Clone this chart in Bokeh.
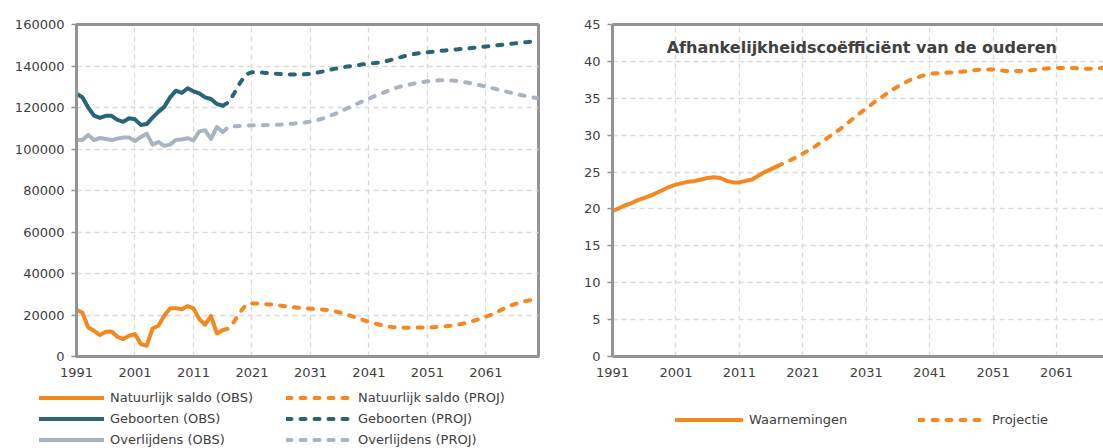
from bokeh.plotting import figure
from bokeh.models import (Legend, LegendItem, FixedTicker, BasicTickFormatter,
                          Range1d, Label, LinearAxis)
from bokeh.layouts import row, column
from bokeh.embed import file_html
from bokeh.resources import INLINE

# ---------------- data ----------------
years_obs = list(range(1991, 2017))
years_proj = list(range(2016, 2071))

saldo_obs = [22400, 21200, 14000, 12400, 10300, 11900, 12000, 9500, 8400, 10000,
             10800, 6000, 5200, 13500, 14800, 19600, 23200, 23300, 22800, 24300,
             23200, 18000, 15300, 19600, 11100, 12700]
births_obs = [126600, 124900, 120000, 116100, 115000, 116000, 116000, 114000, 113100, 114800,
              114300, 111600, 112000, 115100, 117900, 120300, 124900, 128100, 127000, 129300,
              127800, 126800, 124900, 124100, 121700, 120900]
deaths_obs = [104400, 104300, 106800, 104300, 105300, 104800, 104300, 105000, 105500, 105500,
              103800, 105800, 107400, 102100, 103400, 101500, 102100, 104400, 104600, 105200,
              104100, 108500, 109000, 104900, 110600, 108200]

saldo_proj = [12700, 13500, 17000, 21500, 25000, 25600, 25500, 25300, 25100, 24800,
              24500, 24100, 23800, 23500, 23200, 23000, 22900, 22700, 22400, 21900,
              21200, 20400, 19500, 18600, 17600, 16700, 15900, 15200, 14600, 14200,
              14000, 13900, 13900, 13900, 14000, 14000, 14100, 14300, 14500, 14800,
              15200, 15800, 16500, 17300, 18200, 19200, 20200, 21500, 23000, 24300,
              25300, 26100, 26800, 27400, 27900]
births_proj = [120900, 122500, 127000, 132000, 136000, 137000, 137000, 136800, 136500, 136300,
               136100, 136000, 135900, 135900, 136000, 136200, 136700, 137300, 138000, 138600,
               139100, 139600, 140000, 140400, 140800, 141100, 141400, 141800, 142400, 143100,
               143900, 144700, 145400, 145900, 146300, 146600, 146900, 147200, 147500, 147700,
               148000, 148300, 148500, 148800, 149100, 149400, 149700, 150000, 150300, 150600,
               150900, 151200, 151500, 151900, 152300]
deaths_proj = [108200, 110600, 110900, 111100, 111300, 111400, 111500, 111500, 111600, 111700,
               111800, 112000, 112200, 112500, 112800, 113200, 113800, 114600, 115600, 116700,
               117900, 119200, 120500, 121800, 123100, 124300, 125500, 126600, 127700, 128900,
               129800, 130500, 131100, 131700, 132200, 132600, 132900, 133100, 133100, 133000,
               132800, 132400, 131900, 131300, 130700, 130100, 129400, 128700, 128000, 127300,
               126600, 126000, 125400, 124900, 124500]

coef_years_obs = list(range(1991, 2018))
coef_years_proj = list(range(2017, 2071))
coef_obs = [19.7, 20.1, 20.5, 20.8, 21.2, 21.5, 21.8, 22.2, 22.6, 23.0,
            23.3, 23.5, 23.7, 23.8, 24.0, 24.2, 24.3, 24.2, 23.8, 23.6,
            23.6, 23.8, 24.0, 24.5, 25.0, 25.4, 25.8]
coef_proj = [25.8, 26.2, 26.6, 27.0, 27.5, 28.0, 28.5, 29.1, 29.7, 30.3,
             30.9, 31.6, 32.3, 33.0, 33.6, 34.3, 34.9, 35.5, 36.1, 36.6,
             37.1, 37.5, 37.8, 38.1, 38.3, 38.4, 38.4, 38.5, 38.5, 38.6,
             38.7, 38.8, 38.9, 38.9, 38.9, 38.8, 38.7, 38.7, 38.7, 38.7,
             38.8, 38.9, 39.0, 39.1, 39.1, 39.1, 39.1, 39.1, 39.0, 39.0,
             39.0, 39.1, 39.1, 39.1]

x_ticks = [1991, 2001, 2011, 2021, 2031, 2041, 2051, 2061]
left_y_ticks = [0, 20000, 40000, 60000, 80000, 100000, 120000, 140000, 160000]
right_y_ticks = [0, 5, 10, 15, 20, 25, 30, 35, 40, 45]

labels_left_obs = ["Natuurlijk saldo (OBS)", "Geboorten (OBS)", "Overlijdens (OBS)"]
labels_left_proj = ["Natuurlijk saldo (PROJ)", "Geboorten (PROJ)", "Overlijdens (PROJ)"]
labels_right = ["Waarnemingen", "Projectie"]
right_title = "Afhankelijkheidscoëfficiënt van de ouderen"

# ---------------- style ----------------
ORANGE = "#F5871F"
TEAL = "#29647A"
GREY = "#A9B4C3"
AXIS = "#949494"
GRID = "#D9D9D9"
TEXT = "#404040"
FONT = "DejaVu Sans"
DASH = "5 9"
LW = 4
TOP_H = 380
LEG_H = 68


def style(p, yticks):
    p.background_fill_color = "white"
    p.border_fill_color = "white"
    p.xaxis.ticker = FixedTicker(ticks=x_ticks)
    p.yaxis.ticker = FixedTicker(ticks=yticks)
    for ax in (p.xaxis, p.yaxis):
        ax.axis_line_color = AXIS
        ax.axis_line_width = 3
        ax.minor_tick_line_color = None
        ax.major_label_text_font = FONT
        ax.major_label_text_font_size = "13px"
        ax.major_label_text_color = TEXT
    p.xaxis.major_tick_line_color = None
    p.xaxis.major_label_standoff = 5
    p.yaxis.major_tick_line_color = AXIS
    p.yaxis.major_tick_line_width = 1.5
    p.yaxis.major_tick_out = 5
    p.yaxis.major_tick_in = 0
    p.yaxis.major_label_standoff = 7
    for g in (p.xgrid, p.ygrid):
        g.grid_line_color = GRID
        g.grid_line_dash = "5 4"
        g.grid_line_width = 1.3


def legend_fig(width):
    # a strip under each chart that only holds its legend; its ranges keep
    # the key renderers' data out of view, so only the legend keys show
    f = figure(width=width, height=LEG_H, output_backend="svg", toolbar_location=None,
               x_axis_type=None, y_axis_type=None,
               x_range=Range1d(0, 1), y_range=Range1d(-2, -1))
    f.min_border_left = 0
    f.min_border_right = 0
    f.min_border_top = 0
    f.min_border_bottom = 0
    f.outline_line_color = None
    f.xgrid.visible = False
    f.ygrid.visible = False
    f.background_fill_color = "white"
    f.border_fill_color = "white"
    return f


def make_legend(items, loc, gw, standoff):
    return Legend(items=items, location=loc, orientation="vertical",
                  padding=0, margin=0, spacing=4, glyph_width=gw, glyph_height=17,
                  label_height=17, label_standoff=standoff,
                  border_line_color=None, background_fill_alpha=0,
                  label_text_font=FONT, label_text_font_size="13px",
                  label_text_color=TEXT)


# ---------------- left chart ----------------
p1 = figure(width=556, height=TOP_H, output_backend="svg", toolbar_location=None,
            x_range=Range1d(1991, 2070), y_range=Range1d(0, 160000))
p1.min_border_left = 76
p1.min_border_right = 18
p1.min_border_top = 24
p1.min_border_bottom = 24
p1.outline_line_color = AXIS
p1.outline_line_width = 3
style(p1, left_y_ticks)
p1.yaxis.formatter = BasicTickFormatter(use_scientific=False)

obs_series = [(saldo_obs, ORANGE), (births_obs, TEAL), (deaths_obs, GREY)]
proj_series = [(saldo_proj, ORANGE), (births_proj, TEAL), (deaths_proj, GREY)]

for vals, col in obs_series:
    p1.line(years_obs, vals, line_color=col, line_width=LW,
            line_join="round", line_cap="round")
for vals, col in proj_series:
    p1.line(years_proj, vals, line_color=col, line_width=LW,
            line_dash=DASH, line_cap="round", line_join="round")

# legend strip for the left chart
l1 = legend_fig(556)
obs_keys = [l1.line(years_obs, vals, line_color=col, line_width=LW, line_cap="round")
            for vals, col in obs_series]
proj_keys = [l1.line(years_proj, vals, line_color=col, line_width=LW, line_dash=DASH,
                     line_cap="round")
             for vals, col in proj_series]
l1.add_layout(make_legend([LegendItem(label=l, renderers=[r])
                           for l, r in zip(labels_left_obs, obs_keys)], (39, 0), 65, 6), "center")
l1.add_layout(make_legend([LegendItem(label=l, renderers=[r])
                           for l, r in zip(labels_left_proj, proj_keys)], (286, 0), 65, 7), "center")

# ---------------- right chart ----------------
p2 = figure(width=547, height=TOP_H, output_backend="svg", toolbar_location=None,
            x_range=Range1d(1991, 2068.4), y_range=Range1d(0, 45))
p2.min_border_left = 56
p2.min_border_right = 0
p2.min_border_top = 24
p2.min_border_bottom = 24
p2.outline_line_color = None
style(p2, right_y_ticks)

top_axis = LinearAxis(axis_line_color=AXIS, axis_line_width=3,
                      major_tick_line_color=None, minor_tick_line_color=None,
                      major_label_text_font_size="0px", ticker=FixedTicker(ticks=[]))
p2.add_layout(top_axis, "above")

p2.line(coef_years_obs, coef_obs, line_color=ORANGE, line_width=LW,
        line_join="round", line_cap="round")
p2.line(coef_years_proj, coef_proj, line_color=ORANGE, line_width=LW,
        line_dash=DASH, line_cap="round", line_join="round")

p2.add_layout(Label(x=2030.3, y=41.9, text=right_title, text_align="center",
                    text_baseline="middle", text_font=FONT, text_font_style="bold",
                    text_font_size="16px", text_color=TEXT))

l2 = legend_fig(547)
k_obs = l2.line(coef_years_obs, coef_obs, line_color=ORANGE, line_width=LW, line_cap="round")
k_proj = l2.line(coef_years_proj, coef_proj, line_color=ORANGE, line_width=LW, line_dash=DASH,
                 line_cap="round")
l2.add_layout(make_legend([LegendItem(label=labels_right[0], renderers=[k_obs])],
                          (119, 20), 68, 6), "center")
l2.add_layout(make_legend([LegendItem(label=labels_right[1], renderers=[k_proj])],
                          (362, 20), 68, 6), "center")

layout = column(row(p1, p2), row(l1, l2))
open("out.html", "w").write(file_html(layout, INLINE))
